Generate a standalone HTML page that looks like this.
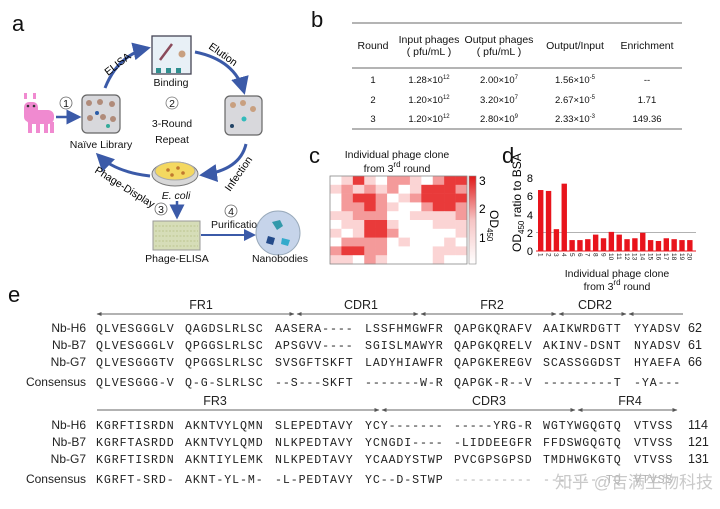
<!DOCTYPE html>
<html><head><meta charset="utf-8"><style>
body{margin:0;background:#fff;}
svg{display:block;font-family:"Liberation Sans",Arial,sans-serif;}
.seq{font-family:"Liberation Mono",monospace;font-size:11.6px;letter-spacing:0.9px;fill:#222;}
.lab{font-size:12px;fill:#222;text-anchor:end;}
.t{font-size:10.5px;fill:#111;text-anchor:middle;}
</style></head><body>
<svg width="720" height="509" viewBox="0 0 720 509">
<defs>
<marker id="ah" markerWidth="6" markerHeight="6" refX="5" refY="3" orient="auto"><path d="M0,0 L6,3 L0,6 z" fill="#3b5aa8"/></marker>
<marker id="sa" markerWidth="5" markerHeight="5" refX="4.5" refY="2.5" orient="auto"><path d="M0,0.5 L5,2.5 L0,4.5 z" fill="#555"/></marker>
<marker id="sb" markerWidth="5" markerHeight="5" refX="0.5" refY="2.5" orient="auto"><path d="M5,0.5 L0,2.5 L5,4.5 z" fill="#555"/></marker>
</defs>
<!-- panel a -->
<text x="12" y="31" font-size="22" fill="#111">a</text>
<g fill="#f08ad0">
<rect x="24" y="102" width="14" height="20" rx="5"/>
<rect x="26" y="110" width="28" height="14" rx="6"/>
<rect x="28" y="122" width="4" height="11"/><rect x="36" y="122" width="4" height="11"/><rect x="44" y="122" width="4" height="11"/><rect x="50" y="122" width="4" height="11"/>
<rect x="24" y="93" width="3" height="6"/><rect x="33" y="93" width="3" height="6"/>
</g>
<circle cx="28" cy="106" r="1.3" fill="#333"/><circle cx="34" cy="106" r="1.3" fill="#333"/>
<line x1="56" y1="117" x2="79" y2="117" stroke="#3b5aa8" stroke-width="2.5" marker-end="url(#ah)"/>
<circle cx="66" cy="103" r="6" fill="none" stroke="#666" stroke-width="0.8"/><text x="66" y="107" class="t" font-size="9">1</text>
<rect x="82" y="95" width="38" height="38" rx="5" fill="#d8d8dc" stroke="#666" stroke-width="1.2"/>
<g fill="#b08b7a"><circle cx="89" cy="103" r="3"/><circle cx="100" cy="102" r="3"/><circle cx="112" cy="104" r="3"/><circle cx="90" cy="118" r="3"/><circle cx="103" cy="117" r="3"/><circle cx="113" cy="119" r="3"/></g>
<circle cx="97" cy="113" r="2" fill="#2b5da8"/><circle cx="108" cy="126" r="2" fill="#3a9"/>
<text x="101" y="148" class="t" font-size="10">Naïve Library</text>
<rect x="152" y="36" width="39" height="38" fill="#e8f0f6" stroke="#445" stroke-width="1.3"/>
<g fill="#2f8f8f"><rect x="156" y="68" width="5" height="5"/><rect x="166" y="68" width="5" height="5"/><rect x="176" y="68" width="5" height="5"/></g>
<line x1="160" y1="60" x2="172" y2="44" stroke="#8a4a5a" stroke-width="2.5"/><circle cx="182" cy="54" r="3.5" fill="#c8a080"/>
<text x="171" y="86" class="t" font-size="10">Binding</text>
<rect x="225" y="96" width="37" height="39" rx="5" fill="#d8d8dc" stroke="#666" stroke-width="1.2"/>
<g fill="#c8a080"><circle cx="233" cy="105" r="3"/><circle cx="243" cy="103" r="3"/><circle cx="253" cy="109" r="3"/></g>
<circle cx="244" cy="119" r="2.5" fill="#3bb"/><circle cx="232" cy="126" r="2" fill="#246"/>
<path d="M105,88 Q118,55 148,48" fill="none" stroke="#3b5aa8" stroke-width="3" marker-end="url(#ah)"/>
<path d="M195,52 Q235,60 244,92" fill="none" stroke="#3b5aa8" stroke-width="3" marker-end="url(#ah)"/>
<path d="M246,144 Q240,170 202,175" fill="none" stroke="#3b5aa8" stroke-width="3" marker-end="url(#ah)"/>
<path d="M150,176 Q115,172 98,155" fill="none" stroke="#3b5aa8" stroke-width="3" marker-end="url(#ah)"/>
<text x="0" y="0" font-size="10.5" transform="translate(108,76) rotate(-38)">ELISA</text>
<text x="0" y="0" font-size="10.5" transform="translate(208,48) rotate(35)">Elution</text>
<text x="0" y="0" font-size="10.5" transform="translate(230,192) rotate(-55)">Infection</text>
<text x="0" y="0" font-size="10.5" transform="translate(94,172) rotate(32)">Phage-Display</text>
<circle cx="172" cy="103" r="6" fill="none" stroke="#777" stroke-width="0.8"/><text x="172" y="107" class="t" font-size="9" fill="#777">2</text>
<text x="172" y="127" class="t" font-size="15">3-Round</text>
<text x="172" y="143" class="t" font-size="15">Repeat</text>
<ellipse cx="175" cy="174" rx="23" ry="12" fill="#d8d8d8" stroke="#777"/>
<ellipse cx="175" cy="171" rx="20" ry="9" fill="#f4d860" stroke="#aaa"/>
<g fill="#c07830"><circle cx="168" cy="170" r="1.8"/><circle cx="178" cy="168" r="1.8"/><circle cx="183" cy="173" r="1.8"/><circle cx="172" cy="175" r="1.8"/></g>
<text x="176" y="199" class="t" font-size="11" font-style="italic">E. coli</text>
<circle cx="161" cy="209" r="6" fill="none" stroke="#666" stroke-width="0.8"/><text x="161" y="213" class="t" font-size="9">3</text>
<line x1="177" y1="201" x2="177" y2="217" stroke="#3b5aa8" stroke-width="2.5" marker-end="url(#ah)"/>
<rect x="153" y="221" width="47" height="29" fill="#d6ddb8" stroke="#999"/>
<g stroke="#bcc58e" stroke-width="1" stroke-dasharray="2,1.5"><line x1="155" y1="226" x2="198" y2="226"/><line x1="155" y1="231" x2="198" y2="231"/><line x1="155" y1="236" x2="198" y2="236"/><line x1="155" y1="241" x2="198" y2="241"/><line x1="155" y1="246" x2="198" y2="246"/></g>
<text x="177" y="262" class="t" font-size="11">Phage-ELISA</text>
<circle cx="231" cy="211" r="6" fill="none" stroke="#666" stroke-width="0.8"/><text x="231" y="215" class="t" font-size="9">4</text>
<text x="237" y="228" class="t" font-size="10">Purification</text>
<line x1="201" y1="235" x2="254" y2="235" stroke="#3b5aa8" stroke-width="2" marker-end="url(#ah)"/>
<circle cx="278" cy="233" r="22" fill="#c6d4ea" stroke="#9ab"/>
<path d="M272,222 l8,-2 l3,6 l-6,4 z" fill="#39a"/><path d="M268,236 l7,2 l-2,7 l-7,-2 z" fill="#234a8a"/><path d="M282,238 l8,2 l-2,6 l-7,-2 z" fill="#3ac"/>
<text x="280" y="262" class="t" font-size="11">Nanobodies</text>

<!-- panel b -->
<text x="311" y="27" font-size="22" fill="#111">b</text>
<line x1="352" y1="23" x2="682" y2="23" stroke="#888" stroke-width="1.2"/>
<line x1="352" y1="68" x2="682" y2="68" stroke="#888" stroke-width="1.2"/>
<line x1="352" y1="129" x2="682" y2="129" stroke="#888" stroke-width="1.2"/>
<text x="373" y="49" class="t" font-size="9.5">Round</text>
<text x="429" y="43" class="t" font-size="9.5">Input phages</text><text x="429" y="55" class="t" font-size="9.5">( pfu/mL )</text>
<text x="499" y="43" class="t" font-size="9.5">Output phages</text><text x="499" y="55" class="t" font-size="9.5">( pfu/mL )</text>
<text x="575" y="49" class="t" font-size="9.5">Output/Input</text>
<text x="647" y="49" class="t" font-size="9.5">Enrichment</text>
<g font-size="9.5" text-anchor="middle" fill="#111">
<text x="373" y="83">1</text><text x="373" y="103">2</text><text x="373" y="122">3</text>
<text x="429" y="83">1.28×10<tspan font-size="6" dy="-4">12</tspan></text>
<text x="429" y="103">1.20×10<tspan font-size="6" dy="-4">12</tspan></text>
<text x="429" y="122">1.20×10<tspan font-size="6" dy="-4">12</tspan></text>
<text x="499" y="83">2.00×10<tspan font-size="6" dy="-4">7</tspan></text>
<text x="499" y="103">3.20×10<tspan font-size="6" dy="-4">7</tspan></text>
<text x="499" y="122">2.80×10<tspan font-size="6" dy="-4">9</tspan></text>
<text x="575" y="83">1.56×10<tspan font-size="6" dy="-4">-5</tspan></text>
<text x="575" y="103">2.67×10<tspan font-size="6" dy="-4">-5</tspan></text>
<text x="575" y="122">2.33×10<tspan font-size="6" dy="-4">-3</tspan></text>
<text x="647" y="83">--</text><text x="647" y="103">1.71</text><text x="647" y="122">149.36</text>
</g>

<!-- panel c -->
<text x="309" y="163" font-size="22" fill="#111">c</text>
<text x="397" y="158" class="t" font-size="12.5">Individual phage clone</text>
<text x="397" y="172" class="t" font-size="12.5">from 3<tspan font-size="8" dy="-5">rd</tspan><tspan dy="5"> round</tspan></text>
<g id="hm"></g>
<rect x="330" y="176" width="137" height="88" fill="none" stroke="#888" stroke-width="0.8"/>
<defs><linearGradient id="cb" x1="0" y1="1" x2="0" y2="0"><stop offset="0" stop-color="#fff"/><stop offset="0.5" stop-color="#f6c4c4"/><stop offset="1" stop-color="#e01818"/></linearGradient></defs>
<rect x="469" y="176" width="7" height="88" fill="url(#cb)" stroke="#888" stroke-width="0.6"/>
<text x="479" y="185" font-size="12">3</text><text x="479" y="213" font-size="12">2</text><text x="479" y="242" font-size="12">1</text>
<text x="0" y="0" font-size="12" transform="translate(490,210) rotate(90)">OD<tspan font-size="8" dy="3">450</tspan></text>

<!-- panel d -->
<text x="502" y="163" font-size="22" fill="#111">d</text>
<text x="0" y="0" font-size="12" transform="translate(521,252) rotate(-90)">OD<tspan font-size="8" dy="3">450</tspan><tspan dy="-3"> ratio to BSA</tspan></text>
<g font-size="11" text-anchor="end"><text x="533" y="182">8</text><text x="533" y="200">6</text><text x="533" y="219">4</text><text x="533" y="237">2</text><text x="533" y="255">0</text></g>
<line x1="536" y1="232.5" x2="696" y2="232.5" stroke="#999" stroke-width="0.8"/>
<g id="bars" fill="#e8141c"></g>
<line x1="536" y1="251" x2="696" y2="251" stroke="#e8141c" stroke-width="1"/>
<g id="bl" font-size="6.5" fill="#222"></g>
<text x="617" y="277" class="t" font-size="12">Individual phage clone</text>
<text x="617" y="290" class="t" font-size="12">from 3<tspan font-size="8" dy="-5">rd</tspan><tspan dy="5"> round</tspan></text>

<!-- panel e -->
<text x="8" y="302" font-size="22" fill="#111">e</text>
<g font-size="12.5" text-anchor="middle" fill="#222">
<text x="201" y="309">FR1</text><text x="361" y="309">CDR1</text><text x="492" y="309">FR2</text><text x="595" y="309">CDR2</text>
<text x="215" y="405">FR3</text><text x="489" y="405">CDR3</text><text x="630" y="405">FR4</text>
</g>
<g stroke="#666" stroke-width="1" fill="none">
<line x1="97" y1="314" x2="294" y2="314" marker-start="url(#sb)" marker-end="url(#sa)"/>
<line x1="297" y1="314" x2="418" y2="314" marker-start="url(#sb)" marker-end="url(#sa)"/>
<line x1="421" y1="314" x2="556" y2="314" marker-start="url(#sb)" marker-end="url(#sa)"/>
<line x1="559" y1="314" x2="626" y2="314" marker-start="url(#sb)" marker-end="url(#sa)"/>
<line x1="629" y1="314" x2="683" y2="314" marker-start="url(#sb)"/>
<line x1="97" y1="410" x2="379" y2="410" marker-end="url(#sa)"/>
<line x1="382" y1="410" x2="575" y2="410" marker-start="url(#sb)" marker-end="url(#sa)"/>
<line x1="578" y1="410" x2="677" y2="410" marker-start="url(#sb)" marker-end="url(#sa)"/>
</g>
<g id="seqs"></g>
<text x="555" y="488" font-size="17" fill="#bbb" fill-opacity="0.8" font-family="'Liberation Sans','Noto Sans CJK SC',sans-serif">知乎 @吉满生物科技（上...</text>
</svg>
<script>
var NS="http://www.w3.org/2000/svg";
function el(t,a,p,txt){var e=document.createElementNS(NS,t);for(var k in a)e.setAttribute(k,a[k]);if(txt!=null)e.textContent=txt;p.appendChild(e);return e;}
var H=[
"013102210233",
"121212013332",
"023320123333",
"022321002332",
"112220011112",
"011331000111",
"101332000001",
"022220100010",
"233220000111",
"110210000100"
];
var cols=["#ffffff","#fbd4d4","#f49a9a","#e93a3a"];
var hm=document.getElementById("hm"),cw=137/12,rh=8.8;
for(var r=0;r<10;r++)for(var c=0;c<12;c++){el("rect",{x:330+c*cw,y:176+r*rh,width:cw+0.3,height:rh+0.3,fill:cols[+H[r][c]]},hm);}
var v=[6.7,6.6,2.4,7.4,1.2,1.2,1.3,1.8,1.4,2.1,1.8,1.3,1.4,2.0,1.2,1.1,1.4,1.3,1.2,1.2];
var bg=document.getElementById("bars"),bl=document.getElementById("bl");
for(var i=0;i<20;i++){var x=538+i*7.85,h=v[i]*9.1;el("rect",{x:x,y:251-h,width:5.4,height:h},bg);
el("text",{transform:"translate("+(x+0.5)+",253) rotate(90)"},bl,String(i+1));}
var S=[
["Nb-H6",328,["QLVESGGGLV","QAGDSLRLSC","AASERA----","LSSFHMGWFR","QAPGKQRAFV","AAIKWRDGTT","YYADSV"],"62"],
["Nb-B7",345,["QLVESGGGLV","QPGGSLRLSC","APSGVV----","SGISLMAWYR","QAPGKQRELV","AKINV-DSNT","NYADSV"],"61"],
["Nb-G7",362,["QLVESGGGTV","QPGGSLRLSC","SVSGFTSKFT","LADYHIAWFR","QAPGKEREGV","SCASSGGDST","HYAEFA"],"66"],
["Consensus",382,["QLVESGGG-V","Q-G-SLRLSC","--S---SKFT","-------W-R","QAPGK-R--V","---------T","-YA---"],""],
["Nb-H6",425,["KGRFTISRDN","AKNTVYLQMN","SLEPEDTAVY","YCY-------","-----YRG-R","WGTYWGQGTQ","VTVSS"],"114"],
["Nb-B7",442,["KGRFTASRDD","AKNTVYLQMD","NLKPEDTAVY","YCNGDI----","-LIDDEEGFR","FFDSWGQGTQ","VTVSS"],"121"],
["Nb-G7",459,["KGRFTISRDN","AKNTIYLEMK","NLKPEDTAVY","YCAADYSTWP","PVCGPSGPSD","TMDHWGKGTQ","VTVSS"],"131"],
["Consensus",479,["KGRFT-SRD-","AKNT-YL-M-","-L-PEDTAVY","YC--D-STWP","----------","--------TQ","VTVSS"],""]
];
var sg=document.getElementById("seqs"),bx=[96,185,275,365,454,543,634];
S.forEach(function(s){el("text",{x:86,y:s[1]+4,"class":"lab"},sg,s[0]);
s[2].forEach(function(b,j){var a={x:bx[j],y:s[1]+4,"class":"seq"};if(s[0]=="Consensus"&&s[1]>470&&j>3)a["fill-opacity"]="0.35";el("text",a,sg,b);});
if(s[3])el("text",{x:688,y:s[1]+4,"font-size":"12.5",fill:"#222"},sg,s[3]);});
</script>
</body></html>
